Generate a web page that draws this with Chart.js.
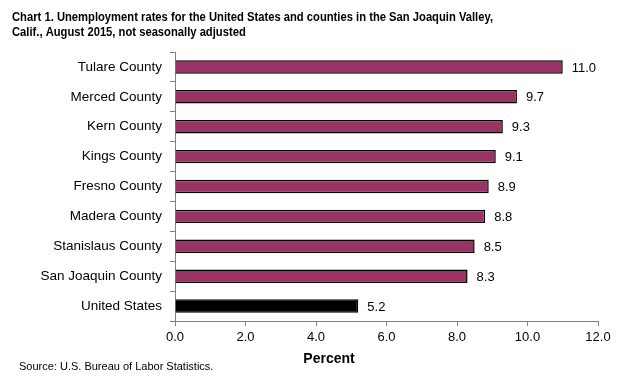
<!DOCTYPE html>
<html>
<head>
<meta charset="utf-8">
<script src="https://cdn.jsdelivr.net/npm/chart.js@4"></script>
<style>
  html, body { margin: 0; padding: 0; background: #ffffff; }
  #wrap { width: 619px; height: 385px; position: relative; }
</style>
</head>
<body>
<div id="wrap"><canvas id="rateChart" width="619" height="385"></canvas></div>
<script>
// Chart 1 data
const areas = ['Tulare County', 'Merced County', 'Kern County', 'Kings County', 'Fresno County',
    'Madera County', 'Stanislaus County', 'San Joaquin County', 'United States'];
const rates = [11.0, 9.7, 9.3, 9.1, 8.9, 8.8, 8.5, 8.3, 5.2];
const xTicks = [0, 2, 4, 6, 8, 10, 12];

const titleLines = ['Chart 1. Unemployment rates for the United States and counties in the San Joaquin Valley,',
    'Calif., August 2015, not seasonally adjusted'];

const maroon = '#993366';
const barColors = areas.map(a => a === 'United States' ? '#000000' : maroon);
const baseFont = '"Liberation Sans", Arial, sans-serif';

// value labels to the right of each bar
const valueLabels = {
    id: 'valueLabels',
    afterDatasetsDraw(chart) {
        const ctx = chart.ctx;
        const meta = chart.getDatasetMeta(0);
        ctx.save();
        ctx.font = '13px ' + baseFont;
        ctx.fillStyle = '#000000';
        ctx.textAlign = 'left';
        ctx.textBaseline = 'middle';
        meta.data.forEach((bar, i) => {
            ctx.fillText(rates[i].toFixed(1), bar.x + 9, bar.y + 1);
        });
        ctx.restore();
    }
};

// title (narrow bold), axis title and source note
const extraText = {
    id: 'extraText',
    afterDraw(chart) {
        const ctx = chart.ctx;
        ctx.save();
        ctx.fillStyle = '#000000';
        ctx.textBaseline = 'alphabetic';
        ctx.textAlign = 'left';

        // no narrow font installed, so squeeze the bold face a little
        ctx.font = 'bold 13.5px ' + baseFont;
        const sx = 481 / ctx.measureText(titleLines[0]).width;
        titleLines.forEach((line, i) => {
            ctx.save();
            ctx.translate(12, 21 + i * 15);
            ctx.scale(sx, 1);
            ctx.fillText(line, 0, 0);
            ctx.restore();
        });

        ctx.textAlign = 'center';
        ctx.font = 'bold 14px ' + baseFont;
        ctx.fillText('Percent', 329, 363);

        ctx.textAlign = 'left';
        ctx.textBaseline = 'middle';
        ctx.font = '11px ' + baseFont;
        ctx.fillText('Source: U.S. Bureau of Labor Statistics.', 19, 367);
        ctx.restore();
    }
};

new Chart(document.getElementById('rateChart'), {
    type: 'bar',
    data: {
        labels: areas,
        datasets: [{
            data: rates,
            backgroundColor: barColors,
            borderColor: '#000000',
            borderWidth: 1.5,
            borderSkipped: 'start',
            barPercentage: 0.45,
            categoryPercentage: 1.0
        }]
    },
    options: {
        indexAxis: 'y',
        responsive: false,
        animation: false,
        layout: {
            padding: { left: 12, right: 21, top: 52, bottom: 12 }
        },
        plugins: {
            legend: { display: false },
            tooltip: { enabled: false },
            title: { display: false }
        },
        scales: {
            x: {
                min: 0,
                max: 12,
                afterBuildTicks(scale) {
                    scale.ticks = xTicks.map(v => ({ value: v }));
                },
                afterFit(scale) {
                    scale.height = 52;
                },
                grid: {
                    drawOnChartArea: false,
                    drawTicks: true,
                    tickLength: 5,
                    color: '#808080'
                },
                border: { color: '#808080', width: 1 },
                ticks: {
                    color: '#000000',
                    padding: 4,
                    maxRotation: 0,
                    font: { family: baseFont, size: 13 },
                    callback: v => Number(v).toFixed(1)
                }
            },
            y: {
                afterFit(scale) {
                    scale.width = 163;
                },
                grid: {
                    drawOnChartArea: false,
                    drawTicks: true,
                    tickLength: 5,
                    offset: true,
                    color: '#808080'
                },
                border: { color: '#808080', width: 1 },
                ticks: {
                    color: '#000000',
                    padding: 8,
                    font: { family: baseFont, size: 13.5 }
                }
            }
        }
    },
    plugins: [valueLabels, extraText]
});
</script>
</body>
</html>
